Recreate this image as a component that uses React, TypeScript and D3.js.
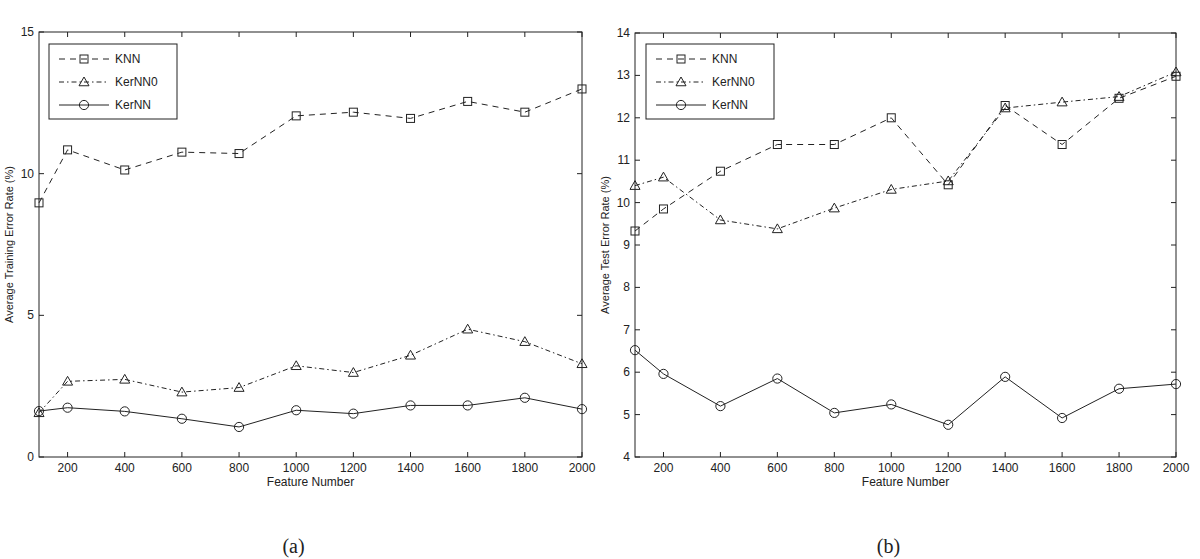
import React from "react";
import * as d3 from "d3";

const features = [100, 200, 400, 600, 800, 1000, 1200, 1400, 1600, 1800, 2000];
const xTicks = [200, 400, 600, 800, 1000, 1200, 1400, 1600, 1800, 2000];

// (a) Average training error rate
const trainKNN = [8.97, 10.84, 10.13, 10.76, 10.71, 12.04, 12.17, 11.95, 12.55, 12.17, 12.99];
const trainKerNN0 = [1.56, 2.67, 2.74, 2.29, 2.45, 3.22, 2.98, 3.59, 4.51, 4.07, 3.29];
const trainKerNN = [1.62, 1.74, 1.61, 1.35, 1.06, 1.65, 1.53, 1.82, 1.82, 2.09, 1.69];
const trainYTicks = [0, 5, 10, 15];

// (b) Average test error rate
const testKNN = [9.33, 9.85, 10.74, 11.37, 11.37, 12.0, 10.42, 12.29, 11.37, 12.46, 12.98];
const testKerNN0 = [10.4, 10.6, 9.59, 9.38, 9.87, 10.31, 10.51, 12.23, 12.37, 12.5, 13.08];
const testKerNN = [6.52, 5.96, 5.2, 5.85, 5.04, 5.24, 4.76, 5.89, 4.92, 5.61, 5.72];
const testYTicks = [4, 5, 6, 7, 8, 9, 10, 11, 12, 13, 14];

const seriesNames = ["KNN", "KerNN0", "KerNN"];
const dashes = ["6,5", "5,3,1.5,3", null];
const markers = ["square", "triangle", "circle"];

const FONT = "'Liberation Sans', Arial, Helvetica, sans-serif";
const INK = "#222";

function Marker({ kind, x, y }: { kind: string; x: number; y: number }) {
  if (kind === "square") {
    return <rect x={x - 4} y={y - 4} width={8} height={8} fill="none" stroke={INK} strokeWidth={1} />;
  }
  if (kind === "triangle") {
    const s = 5;
    return (
      <path
        d={`M${x},${y - s} L${x + s},${y + s * 0.75} L${x - s},${y + s * 0.75} Z`}
        fill="none"
        stroke={INK}
        strokeWidth={1}
      />
    );
  }
  return <circle cx={x} cy={y} r={4.6} fill="none" stroke={INK} strokeWidth={1} />;
}

function Panel({
  left,
  right,
  top,
  bottom,
  yDomain,
  yTicks,
  data,
  yLabel,
  caption,
  legendX,
}: {
  left: number;
  right: number;
  top: number;
  bottom: number;
  yDomain: [number, number];
  yTicks: number[];
  data: number[][];
  yLabel: string;
  caption: string;
  legendX: number;
}) {
  const x = d3.scaleLinear().domain([100, 2000]).range([left, right]);
  const y = d3.scaleLinear().domain(yDomain).range([bottom, top]);
  const line = d3
    .line<number>()
    .x((_, i) => x(features[i]))
    .y((v) => y(v));
  const tl = 5;
  const midY = (top + bottom) / 2;
  const midX = (left + right) / 2;
  return (
    <g fontFamily={FONT} fill={INK}>
      <rect x={left} y={top} width={right - left} height={bottom - top} fill="none" stroke={INK} strokeWidth={1} />
      {xTicks.map((t) => (
        <g key={"xt" + t}>
          <line x1={x(t)} x2={x(t)} y1={bottom} y2={bottom - tl} stroke={INK} />
          <line x1={x(t)} x2={x(t)} y1={top} y2={top + tl} stroke={INK} />
          <text x={x(t)} y={bottom + 15} textAnchor="middle" fontSize={12}>
            {t}
          </text>
        </g>
      ))}
      {yTicks.map((t) => (
        <g key={"yt" + t}>
          <line x1={left} x2={left + tl} y1={y(t)} y2={y(t)} stroke={INK} />
          <line x1={right} x2={right - tl} y1={y(t)} y2={y(t)} stroke={INK} />
          <text x={left - 5} y={y(t) + 4} textAnchor="end" fontSize={12}>
            {t}
          </text>
        </g>
      ))}
      <text x={midX} y={bottom + 29} textAnchor="middle" fontSize={12}>
        Feature Number
      </text>
      <text
        transform={`translate(${left - 26},${midY}) rotate(-90)`}
        textAnchor="middle"
        fontSize={11}
      >
        {yLabel}
      </text>
      {data.map((vals, si) => (
        <g key={"s" + si}>
          <path
            d={line(vals) || ""}
            fill="none"
            stroke={INK}
            strokeWidth={1}
            strokeDasharray={dashes[si] || undefined}
          />
          {vals.map((v, i) => (
            <Marker key={i} kind={markers[si]} x={x(features[i])} y={y(v)} />
          ))}
        </g>
      ))}
      <rect x={legendX} y={44} width={128} height={75} fill="#fff" stroke={INK} strokeWidth={1} />
      {seriesNames.map((n, i) => {
        const ly = 59 + i * 23;
        return (
          <g key={"lg" + n}>
            <line
              x1={legendX + 10}
              x2={legendX + 60}
              y1={ly}
              y2={ly}
              stroke={INK}
              strokeDasharray={dashes[i] || undefined}
            />
            <Marker kind={markers[i]} x={legendX + 35} y={ly} />
            <text x={legendX + 66} y={ly + 4} fontSize={12}>
              {n}
            </text>
          </g>
        );
      })}
      <text
        x={midX - 17}
        y={553}
        textAnchor="middle"
        fontSize={20}
        fontFamily="'Liberation Serif', 'Times New Roman', serif"
      >
        {caption}
      </text>
    </g>
  );
}

export default function App() {
  return (
    <svg
      width={1200}
      height={559}
      style={{ position: "absolute", left: 0, top: 0, background: "#fff" }}
    >
      <rect x={0} y={0} width={1200} height={559} fill="#fff" />
      <Panel
        left={39}
        right={582}
        top={32}
        bottom={457}
        yDomain={[0, 15]}
        yTicks={trainYTicks}
        data={[trainKNN, trainKerNN0, trainKerNN]}
        yLabel="Average Training Error Rate (%)"
        caption="(a)"
        legendX={49}
      />
      <Panel
        left={635}
        right={1176}
        top={33}
        bottom={457}
        yDomain={[4, 14]}
        yTicks={testYTicks}
        data={[testKNN, testKerNN0, testKerNN]}
        yLabel="Average Test Error Rate (%)"
        caption="(b)"
        legendX={646}
      />
    </svg>
  );
}
